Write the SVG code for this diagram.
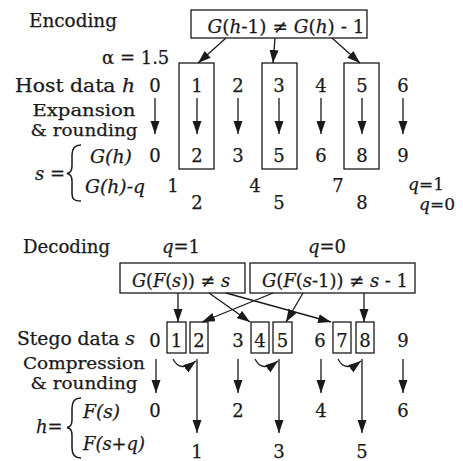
<svg xmlns="http://www.w3.org/2000/svg" width="463" height="461" viewBox="0 0 463 461">
<defs>
<marker id="ah" markerUnits="userSpaceOnUse" markerWidth="14" markerHeight="10" refX="13" refY="4.5" orient="auto">
<path d="M0,0 L13,4.5 L0,9 z" fill="#1a1a1a"/>
</marker>
<style>
text{font-family:"DejaVu Serif","Liberation Serif",serif;font-size:18px;fill:#1a1a1a;stroke:#1a1a1a;stroke-width:0.25}
.s17{font-size:17px}
.m{text-anchor:middle}
.i{font-style:italic}
.box{fill:none;stroke:#1a1a1a;stroke-width:1.3}
.ar{fill:none;stroke:#1a1a1a;stroke-width:1.3;marker-end:url(#ah)}
.br{fill:none;stroke:#1a1a1a;stroke-width:1.5}
</style>
</defs>
<rect width="463" height="461" fill="#fff"/>

<g id="encoding-labels">
<text x="29" y="27" textLength="88" lengthAdjust="spacingAndGlyphs">Encoding</text>
<text x="102" y="64">α = 1.5</text>
<text x="15" y="92" textLength="120" lengthAdjust="spacingAndGlyphs">Host data <tspan class="i">h</tspan></text>
<text class="m s17" x="84" y="116" textLength="103" lengthAdjust="spacingAndGlyphs">Expansion</text>
<text class="m s17" x="84" y="136" textLength="107" lengthAdjust="spacingAndGlyphs">&amp; rounding</text>
<text x="35" y="180"><tspan class="i">s</tspan> =</text>
<path class="br" d="M81,145 C74,145 72,149 72,155 L72,166 C72,171 70,173 67,173.5 C70,174 72,176 72,181 L72,193 C72,199 74,201 81,201"/>
<text class="i" x="90" y="163" textLength="42" lengthAdjust="spacingAndGlyphs">G(h)</text>
<text class="i" x="85" y="193" textLength="60" lengthAdjust="spacingAndGlyphs">G(h)-q</text>
</g>

<g id="enc-condition">
<rect class="box" x="191" y="10" width="176" height="28"/>
<text class="m" x="286" y="33" textLength="157" lengthAdjust="spacingAndGlyphs"><tspan class="i">G</tspan>(<tspan class="i">h</tspan>-1) ≠ <tspan class="i">G</tspan>(<tspan class="i">h</tspan>) - 1</text>
</g>

<g id="enc-boxes">
<rect class="box" x="179" y="63" width="35" height="106"/>
<rect class="box" x="262" y="63" width="35" height="106"/>
<rect class="box" x="344" y="63" width="35" height="106"/>
</g>

<g id="host-row">
<text class="m" x="155" y="92">0</text>
<text class="m" x="197" y="92">1</text>
<text class="m" x="238" y="92">2</text>
<text class="m" x="279" y="92">3</text>
<text class="m" x="321" y="92">4</text>
<text class="m" x="362" y="92">5</text>
<text class="m" x="403" y="92">6</text>
</g>

<g id="expanded-row">
<text class="m" x="155" y="162">0</text>
<text class="m" x="197" y="162">2</text>
<text class="m" x="238" y="162">3</text>
<text class="m" x="279" y="162">5</text>
<text class="m" x="321" y="162">6</text>
<text class="m" x="362" y="162">8</text>
<text class="m" x="403" y="162">9</text>
</g>

<g id="q-rows">
<text class="m" x="173" y="192">1</text>
<text class="m" x="255" y="192">4</text>
<text class="m" x="338" y="192">7</text>
<text class="s17" x="408" y="190"><tspan class="i">q</tspan>=1</text>
<text class="m" x="197" y="209">2</text>
<text class="m" x="279" y="209">5</text>
<text class="m" x="362" y="209">8</text>
<text class="s17" x="419" y="210"><tspan class="i">q</tspan>=0</text>
</g>

<g id="decoding-labels">
<text x="23" y="253" textLength="87" lengthAdjust="spacingAndGlyphs">Decoding</text>
<text x="162" y="253"><tspan class="i">q</tspan>=1</text>
<text x="308" y="253"><tspan class="i">q</tspan>=0</text>
<text x="17" y="345" textLength="118" lengthAdjust="spacingAndGlyphs">Stego data <tspan class="i">s</tspan></text>
<text class="m s17" x="84" y="369" textLength="122" lengthAdjust="spacingAndGlyphs">Compression</text>
<text class="m s17" x="84" y="389" textLength="107" lengthAdjust="spacingAndGlyphs">&amp; rounding</text>
<text x="36" y="433"><tspan class="i">h</tspan>=</text>
<path class="br" d="M81,398 C74,398 72,402 72,408 L72,420 C72,425 70,427 67,427.5 C70,428 72,430 72,435 L72,448 C72,454 74,458 81,458"/>
<text class="i" x="83" y="418" textLength="37" lengthAdjust="spacingAndGlyphs">F(s)</text>
<text class="i" x="83" y="450" textLength="62" lengthAdjust="spacingAndGlyphs">F(s+q)</text>
</g>

<g id="dec-condition-q1">
<rect class="box" x="120" y="263" width="125" height="30"/>
<text class="m" x="181" y="287" textLength="98" lengthAdjust="spacingAndGlyphs"><tspan class="i">G</tspan>(<tspan class="i">F</tspan>(<tspan class="i">s</tspan>)) ≠ <tspan class="i">s</tspan></text>
</g>
<g id="dec-condition-q0">
<rect class="box" x="250" y="263" width="165" height="30"/>
<text class="m" x="335" y="287" textLength="146" lengthAdjust="spacingAndGlyphs"><tspan class="i">G</tspan>(<tspan class="i">F</tspan>(<tspan class="i">s</tspan>-1)) ≠ <tspan class="i">s</tspan> - 1</text>
</g>

<g id="stego-boxes">
<rect class="box" x="167" y="322" width="19" height="31"/>
<rect class="box" x="190" y="322" width="18" height="31"/>
<rect class="box" x="251" y="322" width="18" height="31"/>
<rect class="box" x="273" y="322" width="19" height="31"/>
<rect class="box" x="333" y="322" width="18" height="31"/>
<rect class="box" x="356" y="322" width="18" height="31"/>
</g>

<g id="stego-row">
<text class="m" x="155" y="347">0</text>
<text class="m" x="176.5" y="347">1</text>
<text class="m" x="199" y="347">2</text>
<text class="m" x="238" y="347">3</text>
<text class="m" x="260" y="347">4</text>
<text class="m" x="282.5" y="347">5</text>
<text class="m" x="320" y="347">6</text>
<text class="m" x="342" y="347">7</text>
<text class="m" x="365" y="347">8</text>
<text class="m" x="403" y="347">9</text>
</g>

<g id="host-out-row">
<text class="m" x="155" y="417">0</text>
<text class="m" x="238" y="417">2</text>
<text class="m" x="321" y="417">4</text>
<text class="m" x="403" y="417">6</text>
<text class="m" x="197" y="458">1</text>
<text class="m" x="279" y="458">3</text>
<text class="m" x="362" y="458">5</text>
</g>

<g id="connectors">
<line class="ar" x1="226" y1="38" x2="198" y2="63"/>
<line class="ar" x1="275" y1="38" x2="273" y2="63"/>
<line class="ar" x1="332" y1="38" x2="360" y2="63"/>
<line class="ar" x1="155" y1="98" x2="155" y2="134"/>
<line class="ar" x1="197" y1="98" x2="197" y2="134"/>
<line class="ar" x1="238" y1="98" x2="238" y2="134"/>
<line class="ar" x1="279" y1="98" x2="279" y2="134"/>
<line class="ar" x1="321" y1="98" x2="321" y2="134"/>
<line class="ar" x1="362" y1="98" x2="362" y2="134"/>
<line class="ar" x1="403" y1="98" x2="403" y2="134"/>
<line class="ar" x1="178" y1="293" x2="178" y2="322"/>
<line class="ar" x1="209" y1="293" x2="250" y2="322"/>
<line class="ar" x1="226" y1="293" x2="331" y2="322"/>
<line class="ar" x1="273" y1="293" x2="202" y2="322"/>
<line class="ar" x1="303" y1="293" x2="286" y2="322"/>
<line class="ar" x1="364" y1="293" x2="364" y2="322"/>
<line class="ar" x1="156" y1="359" x2="156" y2="393"/>
<line class="ar" x1="238" y1="359" x2="238" y2="393"/>
<line class="ar" x1="321" y1="359" x2="321" y2="393"/>
<line class="ar" x1="403" y1="359" x2="403" y2="393"/>
<line class="ar" x1="197" y1="359" x2="197" y2="433"/>
<line class="ar" x1="279" y1="359" x2="279" y2="433"/>
<line class="ar" x1="362" y1="359" x2="362" y2="433"/>
<path class="ar" d="M173,359 Q180,373 196,361"/>
<path class="ar" d="M255,359 Q262,373 278,361"/>
<path class="ar" d="M338,359 Q345,373 361,361"/>
</g>
</svg>
